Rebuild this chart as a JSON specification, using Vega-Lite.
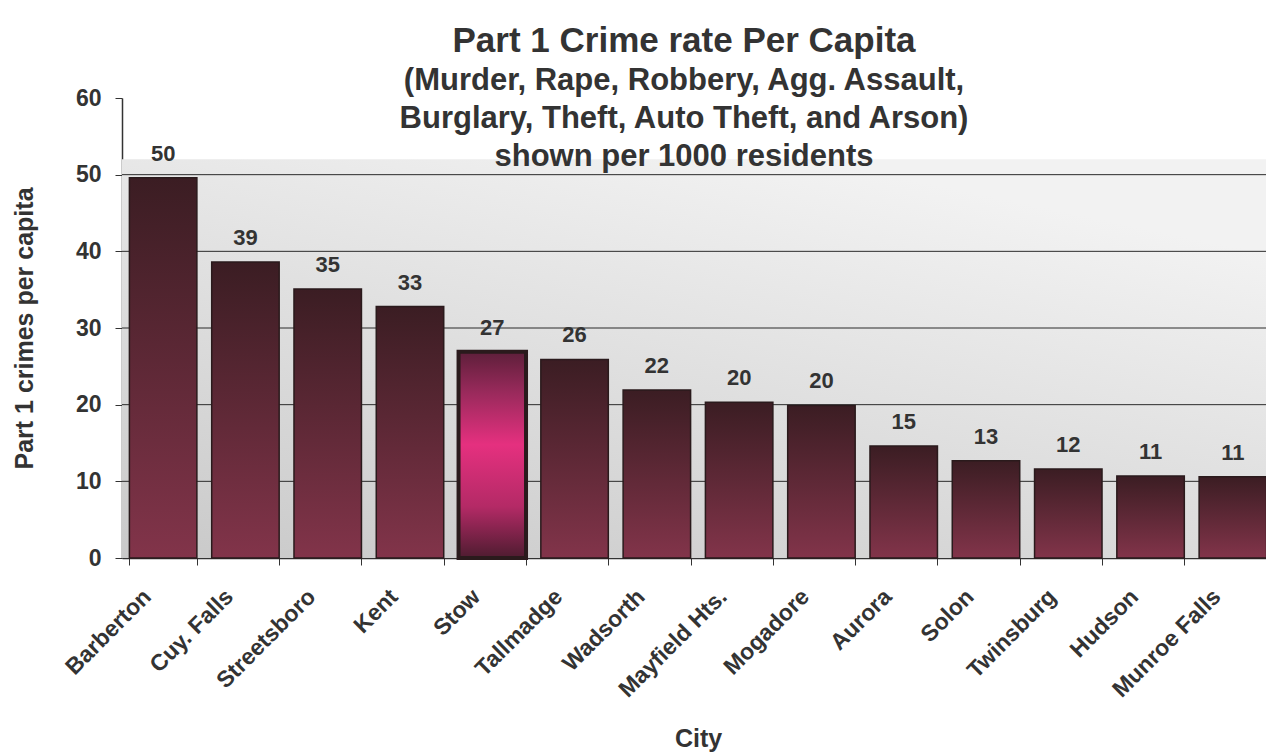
{
  "$schema": "https://vega.github.io/schema/vega-lite/v6.json",
  "width": 1152,
  "height": 460,
  "autosize": {"type": "none"},
  "padding": {"left": 122, "top": 98, "right": -8, "bottom": 196},
  "background": "white",
  "config": {"view": {"stroke": null}, "font": "Liberation Sans"},
  "title": {
    "text": "Part 1 Crime rate Per Capita",
    "subtitle": ["(Murder, Rape, Robbery, Agg. Assault,", "Burglary, Theft, Auto Theft, and Arson)", "shown per 1000 residents"],
    "anchor": "middle",
    "orient": "top",
    "offset": -85,
    "dx": -14,
    "font": "Liberation Sans",
    "fontSize": 35,
    "fontWeight": "bold",
    "color": "#333333",
    "subtitleFont": "Liberation Sans",
    "subtitleFontSize": 31,
    "subtitleFontWeight": "bold",
    "subtitleColor": "#333333",
    "subtitleLineHeight": 38,
    "subtitlePadding": 7
  },
  "data": {
    "values": [
      {"city": "Barberton", "rate": 49.6},
      {"city": "Cuy. Falls", "rate": 38.6},
      {"city": "Streetsboro", "rate": 35.1},
      {"city": "Kent", "rate": 32.8},
      {"city": "Stow", "rate": 26.9},
      {"city": "Tallmadge", "rate": 25.9},
      {"city": "Wadsorth", "rate": 21.9},
      {"city": "Mayfield Hts.", "rate": 20.3},
      {"city": "Mogadore", "rate": 19.9},
      {"city": "Aurora", "rate": 14.6},
      {"city": "Solon", "rate": 12.7},
      {"city": "Twinsburg", "rate": 11.6},
      {"city": "Hudson", "rate": 10.7},
      {"city": "Munroe Falls", "rate": 10.6}
    ]
  },
  "encoding": {
    "x": {
      "field": "city",
      "type": "nominal",
      "sort": null,
      "scale": {"paddingInner": 0.18, "paddingOuter": 0.09},
      "axis": {
        "title": "City",
        "titleFontSize": 25,
        "titleFontWeight": "bold",
        "titleColor": "#333333",
        "titlePadding": 25,
        "labelAngle": -45,
        "labelAlign": "right",
        "labelBaseline": "top",
        "labelFontSize": 23,
        "labelFontWeight": "bold",
        "labelColor": "#333333",
        "labelPadding": 20,
        "labelOffset": -24,
        "tickBand": "extent",
        "tickSize": 7,
        "tickColor": "#333333",
        "domainColor": "#333333",
        "domainWidth": 1.5
      }
    }
  },
  "layer": [
    {
      "data": {"values": [{"lo": 0, "hi": 52}]},
      "mark": {
        "type": "rect",
        "fill": {"gradient": "linear", "x1": 0, "y1": 1, "x2": 0.6, "y2": 0, "stops": [{"offset": 0, "color": "#c9c9c9"}, {"offset": 1, "color": "#f2f2f2"}]}
      },
      "encoding": {
        "x": null,
        "y": {"field": "lo", "type": "quantitative", "scale": {"domain": [0, 60]}},
        "y2": {"field": "hi"}
      }
    },
    {
      "data": {"values": [{"g": 10}, {"g": 20}, {"g": 30}, {"g": 40}, {"g": 50}]},
      "mark": {"type": "rule", "color": "#2b2b2b", "strokeWidth": 1},
      "encoding": {
        "x": null,
        "y": {"field": "g", "type": "quantitative"}
      }
    },
    {
      "mark": {"type": "bar", "stroke": "#2a1a1c"},
      "encoding": {
        "y": {
          "field": "rate",
          "type": "quantitative",
          "scale": {"domain": [0, 60]},
          "axis": {
            "title": "Part 1 crimes per capita",
            "titleFontSize": 25,
            "titleFontWeight": "bold",
            "titleColor": "#333333",
            "titlePadding": 38,
            "values": [0, 10, 20, 30, 40, 50, 60],
            "grid": false,
            "labelFontSize": 23,
            "labelFontWeight": "bold",
            "labelColor": "#333333",
            "labelPadding": 14,
            "tickSize": 7,
            "tickColor": "#333333",
            "domainColor": "#333333",
            "domainWidth": 1.5
          }
        },
        "fill": {
          "condition": {
            "test": "datum.city === 'Stow'",
            "value": {"gradient": "linear", "x1": 0, "y1": 0, "x2": 0, "y2": 1, "stops": [{"offset": 0, "color": "#5e1f3a"}, {"offset": 0.2, "color": "#9a2a5c"}, {"offset": 0.45, "color": "#e5307f"}, {"offset": 0.75, "color": "#b42a66"}, {"offset": 1, "color": "#4e1c30"}]}
          },
          "value": {"gradient": "linear", "x1": 0, "y1": 0, "x2": 0, "y2": 1, "stops": [{"offset": 0, "color": "#3b1d23"}, {"offset": 1, "color": "#82344a"}]}
        },
        "strokeWidth": {"condition": {"test": "datum.city === 'Stow'", "value": 4}, "value": 1.5}
      }
    },
    {
      "mark": {"type": "text", "dy": -24, "fontSize": 22, "fontWeight": "bold", "color": "#333333", "font": "Liberation Sans"},
      "encoding": {
        "y": {"field": "rate", "type": "quantitative"},
        "text": {"field": "rate", "type": "quantitative", "format": ".0f"}
      }
    }
  ]
}
